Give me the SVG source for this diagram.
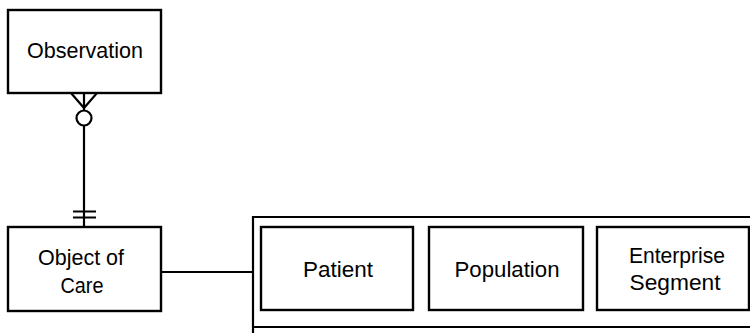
<svg xmlns="http://www.w3.org/2000/svg" width="750" height="333" viewBox="0 0 750 333">
  <style>
    .box { fill: #ffffff; stroke: #000000; stroke-width: 2.4; }
    .line { fill: none; stroke: #000000; stroke-width: 2.2; }
    .lbl { font-family: "Liberation Sans", Arial, sans-serif; font-size: 22.5px; fill: #000000; text-anchor: middle; }
  </style>
  <rect width="750" height="333" fill="#ffffff"/>

  <!-- Relationship connectors -->
  <g id="connectors">
    <!-- Observation (many, optional) to Object of Care (exactly one) -->
    <path class="line" d="M71,93 L84,108 L97,93 M84,93 L84,110"/>
    <circle class="line" cx="84" cy="118" r="7.5"/>
    <path class="line" d="M84,125.5 L84,227"/>
    <path class="line" d="M73,211.5 L96,211.5 M73,217.5 L96,217.5"/>
    <!-- Object of Care to its subtypes -->
    <path class="line" d="M161,272 L253,272"/>
  </g>

  <g id="observation">
    <rect class="box" x="8" y="10" width="153" height="83"/>
    <text class="lbl" x="85" y="58" textLength="116" lengthAdjust="spacingAndGlyphs">Observation</text>
  </g>

  <g id="object-of-care">
    <rect class="box" x="8" y="227" width="153" height="84"/>
    <text class="lbl" x="81" y="265" textLength="86" lengthAdjust="spacingAndGlyphs">Object of</text>
    <text class="lbl" x="82" y="293" textLength="43" lengthAdjust="spacingAndGlyphs">Care</text>
  </g>

  <!-- Subtype container -->
  <g id="subtypes">
    <path class="line" d="M253,336 L253,217 L752,217 M253,327 L752,327"/>
  </g>

  <g id="patient">
    <rect class="box" x="261" y="227" width="152" height="83"/>
    <text class="lbl" x="338" y="277" textLength="70" lengthAdjust="spacingAndGlyphs">Patient</text>
  </g>

  <g id="population">
    <rect class="box" x="429" y="227" width="154" height="83"/>
    <text class="lbl" x="507" y="277" textLength="105" lengthAdjust="spacingAndGlyphs">Population</text>
  </g>

  <g id="enterprise-segment">
    <rect class="box" x="597" y="227" width="152" height="83"/>
    <text class="lbl" x="677" y="263" textLength="96" lengthAdjust="spacingAndGlyphs">Enterprise</text>
    <text class="lbl" x="675" y="290" textLength="91" lengthAdjust="spacingAndGlyphs">Segment</text>
  </g>
</svg>
